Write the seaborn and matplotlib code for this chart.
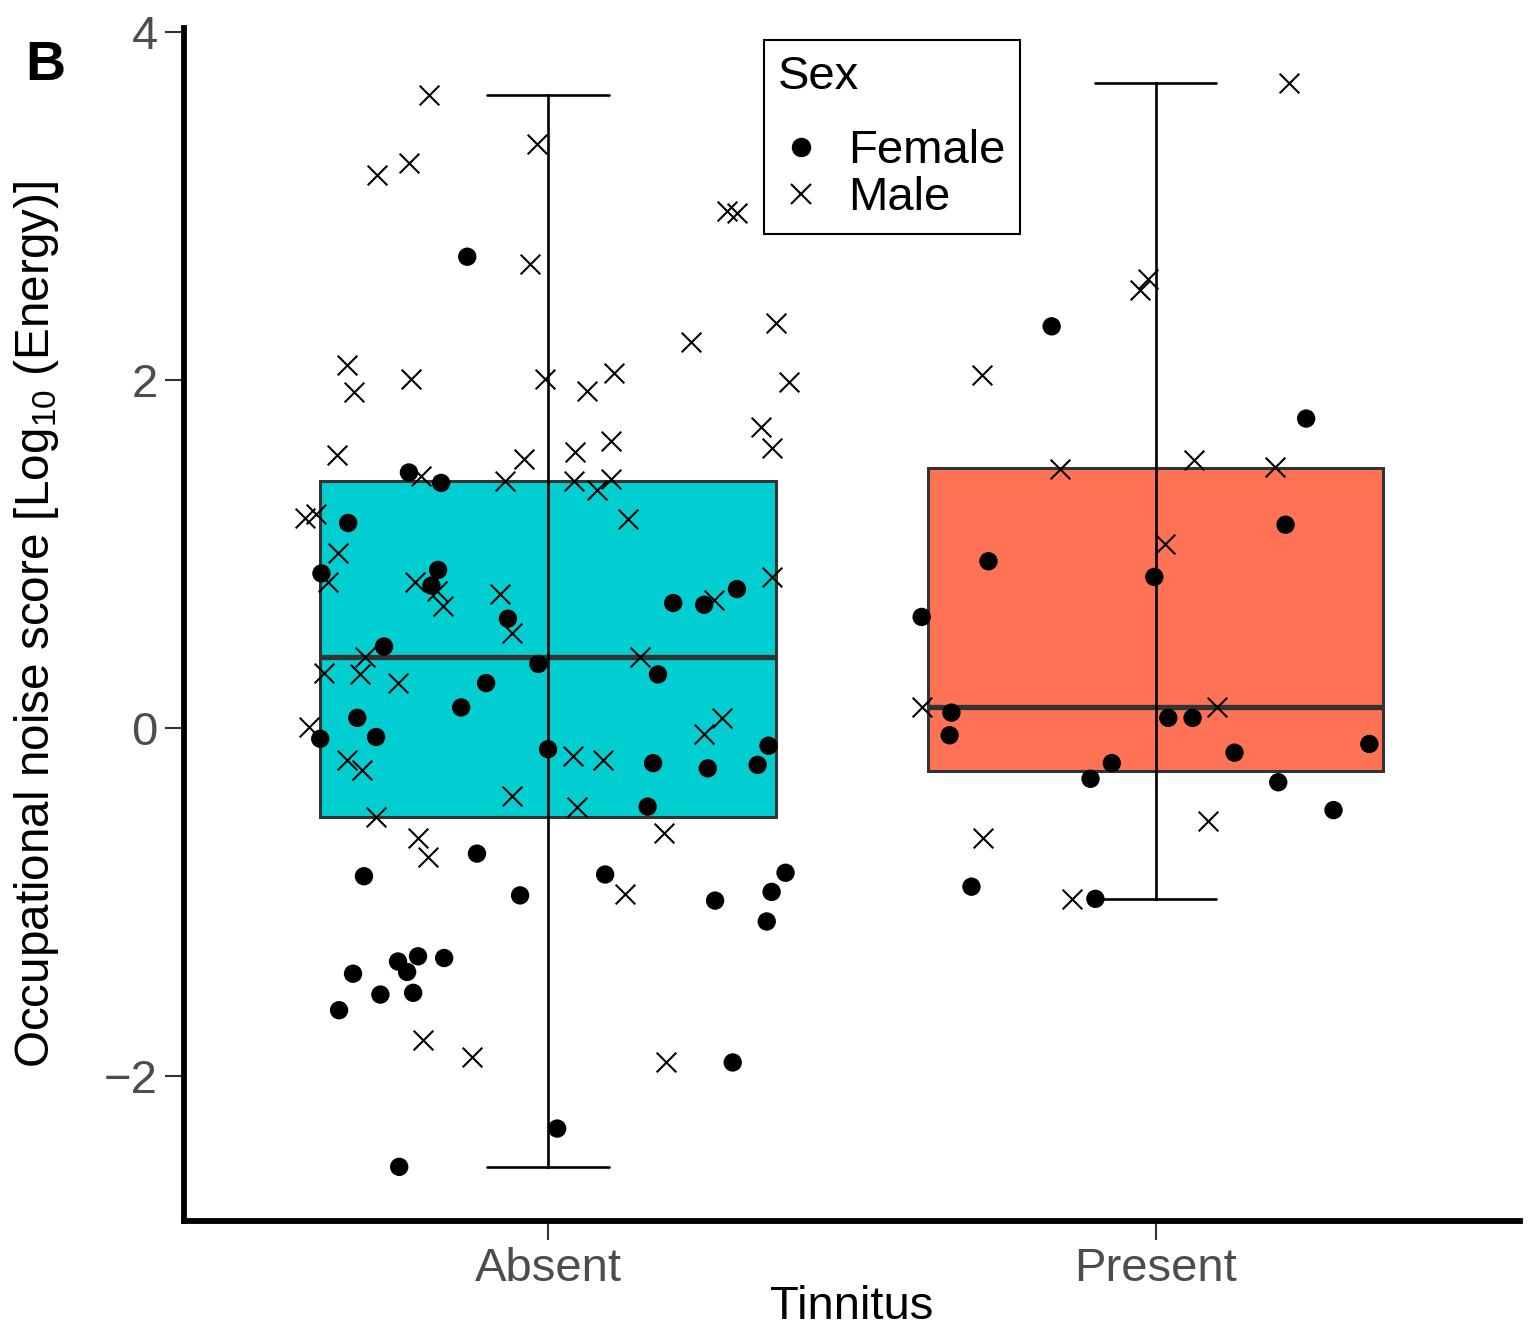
import numpy as np
import pandas as pd
import seaborn as sns
import matplotlib.pyplot as plt
from matplotlib.lines import Line2D

# --- Data ---
groups = ["Absent", "Present"]
box_colors = {"Absent": "#00CED1", "Present": "#FF7256"}

absent_female = [2.71, 1.47, 1.41, 1.18, 0.89, 0.91, 0.82, 0.63, 0.72, 0.71, 0.80,
                 0.47, 0.37, 0.31, 0.26, 0.12, 0.06, -0.06, -0.05, -0.12, -0.10,
                 -0.20, -0.23, -0.21, -0.45, -0.72, -0.85, -0.84, -0.83, -0.96,
                 -0.94, -0.99, -1.11, -1.34, -1.31, -1.32, -1.40, -1.41, -1.53,
                 -1.52, -1.62, -1.92, -2.30, -2.52]
absent_female_jit = [-0.133, -0.229, -0.176, -0.329, -0.373, -0.181, -0.192, -0.066,
                     0.206, 0.257, 0.311, -0.270, -0.016, 0.181, -0.102, -0.143,
                     -0.314, -0.375, -0.283, 0.000, 0.363, 0.173, 0.263, 0.345,
                     0.164, -0.117, -0.303, 0.094, 0.391, -0.046, 0.368, 0.275,
                     0.360, -0.247, -0.214, -0.171, -0.232, -0.321, -0.276, -0.222,
                     -0.344, 0.304, 0.015, -0.245]

absent_male = [3.64, 3.36, 3.18, 3.25, 2.67, 2.97, 2.96, 2.22, 2.33, 1.99, 2.04,
               1.94, 2.09, 1.93, 2.01, 2.01, 1.57, 1.55, 1.59, 1.65, 1.73, 1.61,
               1.45, 1.42, 1.42, 1.37, 1.43, 1.20, 1.21, 1.23, 1.01, 0.84, 0.84,
               0.79, 0.70, 0.77, 0.55, 0.74, 0.87, 0.41, 0.41, 0.32, 0.31, 0.26,
               0.01, 0.06, -0.03, -0.16, -0.18, -0.18, -0.24, -0.39, -0.51, -0.45,
               -0.60, -0.63, -0.74, -0.95, -1.79, -1.89, -1.92]
absent_male_jit = [-0.196, -0.018, -0.281, -0.229, -0.030, 0.294, 0.311, 0.235,
                   0.375, 0.396, 0.109, 0.064, -0.331, -0.319, -0.225, -0.005,
                   -0.347, -0.039, 0.044, 0.104, 0.350, 0.368, -0.209, -0.071,
                   0.043, 0.081, 0.104, 0.132, -0.400, -0.382, -0.345, -0.363,
                   -0.219, -0.183, -0.173, -0.079, -0.059, 0.273, 0.368, 0.151,
                   -0.301, -0.368, -0.309, -0.247, -0.393, 0.286, 0.257, 0.041,
                   0.090, -0.331, -0.306, -0.059, -0.283, 0.048, 0.191, -0.214,
                   -0.197, 0.127, -0.206, -0.125, 0.194]

present_female = [2.31, 1.78, 1.17, 0.96, 0.87, 0.64, 0.09, -0.04, 0.06, 0.06,
                  -0.14, -0.09, -0.20, -0.29, -0.31, -0.47, -0.91, -0.98]
present_female_jit = [-0.171, 0.248, 0.214, -0.275, -0.002, -0.385, -0.336, -0.339,
                      0.021, 0.061, 0.130, 0.352, -0.072, -0.107, 0.202, 0.293,
                      -0.303, -0.099]

present_male = [3.71, 2.58, 2.52, 2.03, 1.49, 1.54, 1.50, 1.06, 0.12, 0.12,
                -0.53, -0.63, -0.98]
present_male_jit = [0.220, -0.013, -0.026, -0.286, -0.158, 0.063, 0.197, 0.015,
                    -0.385, 0.102, 0.086, -0.284, -0.137]

# --- Build a tidy frame ---
rows = []
for gi, (g, fem, fem_j, mal, mal_j) in enumerate([
        ("Absent", absent_female, absent_female_jit, absent_male, absent_male_jit),
        ("Present", present_female, present_female_jit, present_male, present_male_jit)]):
    for v, j in zip(fem, fem_j):
        rows.append((g, "Female", v, gi + j))
    for v, j in zip(mal, mal_j):
        rows.append((g, "Male", v, gi + j))
df = pd.DataFrame(rows, columns=["Tinnitus", "Sex", "score", "xpos"])

# --- Style ---
sns.set_theme(style="white")
plt.rcParams["font.family"] = ["Liberation Sans", "DejaVu Sans"]
plt.rcParams["text.color"] = "black"
plt.rcParams["axes.labelcolor"] = "black"
plt.rcParams["mathtext.fontset"] = "custom"
plt.rcParams["mathtext.rm"] = "Liberation Sans"
plt.rcParams["mathtext.it"] = "Liberation Sans:italic"

fig = plt.figure(figsize=(15.36, 13.31), dpi=100)
ax = fig.add_axes([0.1195, 0.0826, 0.9896 - 0.1195, 0.9786 - 0.0826])

# boxes (whiskers shown separately as errorbar, like ggplot)
sns.boxplot(data=df, x="Tinnitus", y="score", hue="Tinnitus", order=groups,
            palette=box_colors, saturation=1, width=0.75, whis=(0, 100),
            showcaps=False, showfliers=False, linewidth=2.2, linecolor="#333333",
            whiskerprops={"visible": False},
            medianprops={"linewidth": 3.8, "color": "#333333"},
            legend=False, ax=ax)
n_lines_before = len(ax.lines)

# min-max whiskers with caps drawn over the box
sns.pointplot(data=df, x="Tinnitus", y="score", order=groups, estimator="median",
              errorbar=("pi", 100), capsize=0.2, color="black", linestyle="none",
              markersize=0, err_kws={"linewidth": 1.9}, ax=ax)
for ln in ax.lines[n_lines_before:]:
    ln.set_zorder(3)

# jittered points
fem = df[df["Sex"] == "Female"]
mal = df[df["Sex"] == "Male"]
sns.scatterplot(x=fem["xpos"].to_numpy(), y=fem["score"].to_numpy(), marker="o",
                s=175, color="black", edgecolor="none", zorder=4, ax=ax)
sns.scatterplot(x=mal["xpos"].to_numpy(), y=mal["score"].to_numpy(), marker="x",
                s=200, color="black", linewidth=1.5, zorder=4, ax=ax)

# axes limits (ggplot-like expansion)
lo, hi = df["score"].min(), df["score"].max()
pad = 0.05 * (hi - lo)
ax.set_ylim(lo - pad, hi + pad)
ax.set_xlim(-0.6, 1.6)
ax.set_yticks([-2, 0, 2, 4])
ax.set_yticklabels(["\u22122", "0", "2", "4"])

for side in ["top", "right"]:
    ax.spines[side].set_visible(False)
for side in ["left", "bottom"]:
    ax.spines[side].set_linewidth(4.2)
    ax.spines[side].set_color("black")
ax.tick_params(axis="both", which="major", direction="out", length=13.5, width=1.5,
               color="#333333", labelsize=34, labelcolor="#4D4D4D", pad=5,
               left=True, bottom=True)

ax.set_xlabel("Tinnitus", fontsize=34, color="black")
ax.set_ylabel("Occupational noise score [Log$_{\\mathrm{10}}$ (Energy)]",
              fontsize=34.3, color="black")
ax.yaxis.set_label_coords(-0.092, 0.5)
ax.xaxis.set_label_coords(0.5, -0.054)

# legend
handles = [
    Line2D([], [], marker="o", color="black", linestyle="none", markersize=13),
    Line2D([], [], marker="x", color="black", linestyle="none", markersize=14,
           markeredgewidth=1.5),
]
leg = ax.legend(handles, ["Female", "Male"], title="Sex", loc="upper left",
                bbox_to_anchor=(0.434, 0.990), borderaxespad=0, fontsize=34,
                title_fontsize=34, frameon=True, fancybox=False, edgecolor="black",
                framealpha=1, handlelength=1.0, handletextpad=0.49,
                borderpad=0.3, labelspacing=0.065)
leg.get_frame().set_linewidth(1.5)
leg._legend_box.align = "left"
leg._legend_box.sep = 22  # extra room between title and entries
for t in leg.get_texts():
    t.set_color("black")
leg.get_title().set_color("black")

fig.text(25 / 1536, 1 - 80 / 1331, "B", fontsize=40, fontweight="bold",
         color="black", ha="left", va="baseline")

fig.savefig("out.png", dpi=100)
